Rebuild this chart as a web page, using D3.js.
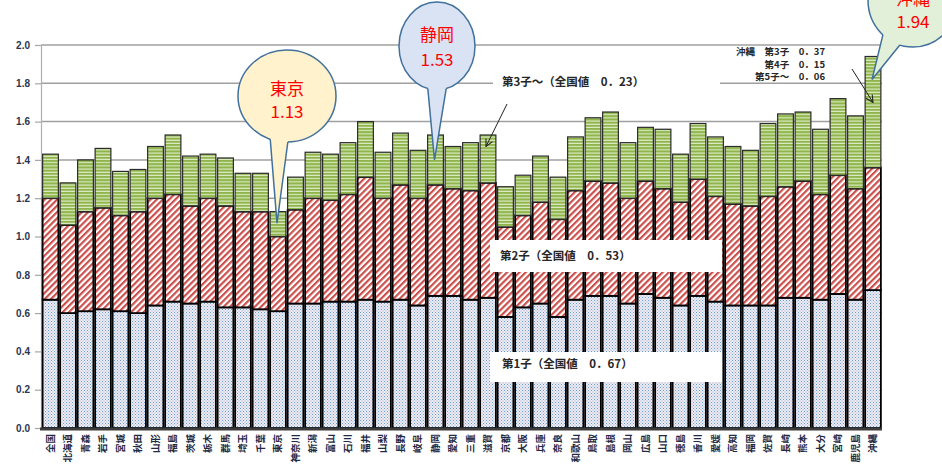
<!DOCTYPE html>
<html>
<head>
<meta charset="utf-8">
<script src="https://cdn.jsdelivr.net/npm/d3@7"></script>
<style>
  body { margin: 0; background: #fff; }
  svg { display: block; font-family: "Noto Sans CJK JP", "Noto Sans", sans-serif; }
</style>
</head>
<body>
<div id="viz"></div>
<script>
// data
const prefs = ['全国','北海道','青森','岩手','宮城','秋田','山形','福島','茨城','栃木','群馬','埼玉','千葉','東京',
  '神奈川','新潟','富山','石川','福井','山梨','長野','岐阜','静岡','愛知','三重','滋賀','京都','大阪','兵庫','奈良',
  '和歌山','鳥取','島根','岡山','広島','山口','徳島','香川','愛媛','高知','福岡','佐賀','長崎','熊本','大分','宮崎',
  '鹿児島','沖縄'];

// 第1子
const child1 = [0.67,0.60,0.61,0.62,0.61,0.60,0.64,0.66,0.65,0.66,0.63,0.63,0.62,0.61,
  0.65,0.65,0.66,0.66,0.67,0.66,0.67,0.64,0.69,0.69,0.67,0.68,0.58,0.63,0.65,0.58,
  0.67,0.69,0.69,0.65,0.70,0.68,0.64,0.69,0.66,0.64,0.64,0.64,0.68,0.68,0.67,0.70,
  0.67,0.72];
// 第2子
const child2 = [0.53,0.46,0.52,0.53,0.50,0.53,0.56,0.56,0.51,0.54,0.53,0.50,0.51,0.39,
  0.49,0.55,0.53,0.56,0.64,0.54,0.60,0.56,0.58,0.56,0.57,0.60,0.47,0.48,0.53,0.51,
  0.57,0.60,0.59,0.55,0.59,0.57,0.54,0.61,0.55,0.53,0.52,0.57,0.58,0.61,0.55,0.62,
  0.58,0.64];
// 第3子～
const child3 = [0.23,0.22,0.27,0.31,0.23,0.22,0.27,0.31,0.26,0.23,0.25,0.20,0.20,0.13,
  0.17,0.24,0.24,0.27,0.29,0.24,0.27,0.25,0.26,0.22,0.25,0.25,0.21,0.21,0.24,0.22,
  0.28,0.33,0.37,0.29,0.28,0.31,0.25,0.29,0.31,0.30,0.29,0.38,0.38,0.36,0.34,0.40,
  0.38,0.58];

const yTicks = [0.0,0.2,0.4,0.6,0.8,1.0,1.2,1.4,1.6,1.8,2.0];

const noteThird = '第3子～（全国値　0．23）';
const noteSecond = '第2子（全国値　0．53）';
const noteFirst = '第1子（全国値　0．67）';
const okinawaNote = ['沖縄　第3子　0．37', '第4子　0．15', '第5子～　0．06'];

const callouts = [
  {name: '東京', value: '1.13'},
  {name: '静岡', value: '1.53'},
  {name: '沖縄', value: '1.94'}
];

const rows = prefs.map((p, i) => ({name: p, c1: child1[i], c2: child2[i], c3: child3[i]}));

const w = 942, h = 473;

const svg = d3.select('#viz')
  .append('svg')
  .attr('width', w)
  .attr('height', h);

const x = d3.scaleBand()
  .domain(prefs)
  .range([41.75, 881.75])
  .paddingInner(0.1)
  .paddingOuter(0.05);

const y = d3.scaleLinear()
  .domain([0, 2])
  .range([428, 45]);

// patterns
const defs = svg.append('defs');

const pBlue = defs.append('pattern')
  .attr('id', 'p-blue')
  .attr('patternUnits', 'userSpaceOnUse')
  .attr('width', 3).attr('height', 3);
pBlue.append('rect').attr('width', 3).attr('height', 3).attr('fill', '#e6eef8');
pBlue.append('rect').attr('x', 0).attr('y', 0).attr('width', 1).attr('height', 1).attr('fill', '#6f9bcf');
pBlue.append('rect').attr('x', 1.5).attr('y', 1.5).attr('width', 1).attr('height', 1).attr('fill', '#c49ab6');

const pRed = defs.append('pattern')
  .attr('id', 'p-red')
  .attr('patternUnits', 'userSpaceOnUse')
  .attr('width', 4.4).attr('height', 4.4)
  .attr('patternTransform', 'rotate(45)');
pRed.append('rect').attr('width', 4.4).attr('height', 4.4).attr('fill', '#fff');
pRed.append('rect').attr('width', 2.2).attr('height', 4.4).attr('fill', '#c9504c');

const pGreen = defs.append('pattern')
  .attr('id', 'p-green')
  .attr('patternUnits', 'userSpaceOnUse')
  .attr('width', 4).attr('height', 3.2);
pGreen.append('rect').attr('width', 4).attr('height', 3.2).attr('fill', '#e2edcf');
pGreen.append('rect').attr('width', 4).attr('height', 2.1).attr('fill', '#8fb54a');

const marker = defs.append('marker')
  .attr('id', 'arrow')
  .attr('viewBox', '0 0 10 10')
  .attr('refX', 9).attr('refY', 5)
  .attr('markerWidth', 9).attr('markerHeight', 9)
  .attr('markerUnits', 'userSpaceOnUse')
  .attr('orient', 'auto');
marker.append('path')
  .attr('d', 'M1,1 L9,5 L1,9')
  .attr('fill', 'none')
  .attr('stroke', '#222')
  .attr('stroke-width', 1.2);

// gridlines
svg.append('g')
  .selectAll('line')
  .data(yTicks.filter(d => d > 0))
  .join('line')
  .attr('x1', 41).attr('x2', 882)
  .attr('y1', d => y(d)).attr('y2', d => y(d))
  .attr('stroke', '#a0a0a0')
  .attr('stroke-width', 1.5);

// y axis
const yAxis = svg.append('g')
  .attr('transform', 'translate(41,0)')
  .call(d3.axisLeft(y).tickValues(yTicks).tickFormat(d3.format('.1f')).tickSize(6).tickSizeOuter(0));
yAxis.select('.domain').attr('stroke', '#b0b0b0').attr('stroke-width', 1.2);
yAxis.selectAll('.tick line').attr('stroke', '#a6a6a6').attr('stroke-width', 1.2);
yAxis.selectAll('.tick text')
  .attr('x', -11)
  .style('font-family', '"Liberation Sans", Arial, sans-serif')
  .style('font-size', '10px')
  .style('font-weight', 'bold')
  .style('fill', '#2a3550');

// stacked bars
const stack = d3.stack().keys(['c1', 'c2', 'c3'])(rows);
const fills = {c1: 'url(#p-blue)', c2: 'url(#p-red)', c3: 'url(#p-green)'};

svg.append('g')
  .selectAll('g')
  .data(stack)
  .join('g')
  .attr('fill', d => fills[d.key])
  .attr('stroke', d => d.key === 'c3' ? '#2b2b2b' : '#000')
  .attr('stroke-width', d => d.key === 'c3' ? 1.2 : 1.8)
  .selectAll('rect')
  .data(d => d)
  .join('rect')
  .attr('x', d => x(d.data.name))
  .attr('width', x.bandwidth())
  .attr('y', d => y(d[1]))
  .attr('height', d => y(d[0]) - y(d[1]));

// x axis
svg.append('line')
  .attr('x1', 40).attr('x2', 882)
  .attr('y1', 429).attr('y2', 429)
  .attr('stroke', '#3c3c3c')
  .attr('stroke-width', 3);

svg.append('g')
  .selectAll('text')
  .data(prefs)
  .join('text')
  .attr('transform', d => `translate(${x(d) + x.bandwidth() / 2},434) rotate(-90)`)
  .attr('text-anchor', 'end')
  .attr('dy', '0.35em')
  .style('font-size', '9.5px')
  .style('font-weight', 'bold')
  .style('fill', '#1f2a44')
  .text(d => d);

// annotation boxes
svg.append('rect').attr('x', 493).attr('y', 72).attr('width', 227).attr('height', 22).attr('fill', '#fff');
svg.append('text').attr('x', 502).attr('y', 86)
  .style('font-size', '11.5px').style('font-weight', 'bold').style('fill', '#262626')
  .text(noteThird);

svg.append('rect').attr('x', 490).attr('y', 240).attr('width', 232).attr('height', 32).attr('fill', '#fff');
svg.append('text').attr('x', 500).attr('y', 260)
  .style('font-size', '11.5px').style('font-weight', 'bold').style('fill', '#262626')
  .text(noteSecond);

svg.append('rect').attr('x', 490).attr('y', 352).attr('width', 232).attr('height', 30).attr('fill', '#fff');
svg.append('text').attr('x', 502).attr('y', 368)
  .style('font-size', '11.5px').style('font-weight', 'bold').style('fill', '#262626')
  .text(noteFirst);

svg.append('g')
  .selectAll('text')
  .data(okinawaNote)
  .join('text')
  .attr('x', 825)
  .attr('y', (d, i) => 55 + i * 12.5)
  .attr('text-anchor', 'end')
  .style('font-size', '9.5px')
  .style('font-weight', 'bold')
  .style('fill', '#262626')
  .text(d => d);

// arrows
const cx = name => x(name) + x.bandwidth() / 2;
svg.append('line')
  .attr('x1', 507).attr('y1', 104)
  .attr('x2', cx('滋賀') - 2).attr('y2', y(1.47))
  .attr('stroke', '#222').attr('stroke-width', 1)
  .attr('marker-end', 'url(#arrow)');
svg.append('line')
  .attr('x1', 852).attr('y1', 69)
  .attr('x2', cx('沖縄')).attr('y2', y(1.70))
  .attr('stroke', '#222').attr('stroke-width', 1)
  .attr('marker-end', 'url(#arrow)');

// callout bubbles
const bubbleLayout = {
  '東京': {cx: 287, cy: 96, rx: 49, ry: 46, a1: 110, a2: 89, tip: 1.07, fill: '#fff2cc', ty: [95, 118]},
  '静岡': {cx: 437, cy: 46, rx: 38, ry: 44, a1: 104, a2: 76, tip: 1.40, fill: '#dae3f3', ty: [41, 66]},
  '沖縄': {cx: 913, cy: 0, rx: 45, ry: 47, a1: 132, a2: 107, tip: 1.82, fill: '#e2efd9', ty: [5, 28]}
};

callouts.forEach(c => {
  const b = bubbleLayout[c.name];
  const rad = a => a * Math.PI / 180;
  const p1 = [b.cx + b.rx * Math.cos(rad(b.a1)), b.cy + b.ry * Math.sin(rad(b.a1))];
  const p2 = [b.cx + b.rx * Math.cos(rad(b.a2)), b.cy + b.ry * Math.sin(rad(b.a2))];
  const tip = [cx(c.name) - 1, y(b.tip)];
  const g = svg.append('g');
  g.append('ellipse')
    .attr('cx', b.cx).attr('cy', b.cy).attr('rx', b.rx).attr('ry', b.ry)
    .attr('fill', b.fill).attr('stroke', '#41719c').attr('stroke-width', 1.5);
  g.append('path')
    .attr('d', `M${p1}L${tip}L${p2}L${b.cx},${b.cy}Z`)
    .attr('fill', b.fill);
  g.append('path')
    .attr('d', `M${p1}L${tip}L${p2}`)
    .attr('fill', 'none').attr('stroke', '#41719c').attr('stroke-width', 1.5);
  g.append('text').attr('x', b.cx).attr('y', b.ty[0])
    .attr('text-anchor', 'middle')
    .style('font-size', '17px').style('fill', '#ff0000')
    .text(c.name);
  g.append('text').attr('x', b.cx).attr('y', b.ty[1])
    .attr('text-anchor', 'middle')
    .style('font-size', '17px').style('fill', '#ff0000')
    .text(c.value);
});
</script>
</body>
</html>
